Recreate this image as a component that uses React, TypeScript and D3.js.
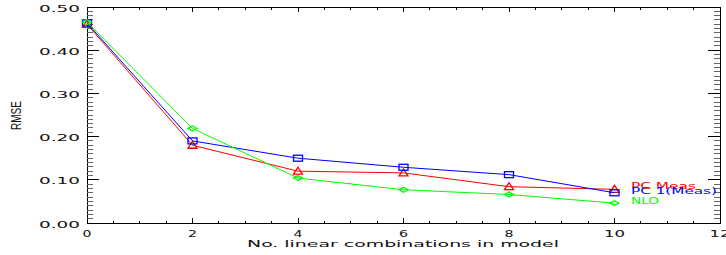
import React from "react";
import * as d3 from "d3";

const xValues = [0, 2, 4, 6, 8, 10];
const pcMeas = [0.46, 0.18, 0.12, 0.116, 0.084, 0.078];
const pc1Meas = [0.463, 0.19, 0.15, 0.129, 0.112, 0.07];
const nlo = [0.465, 0.219, 0.104, 0.077, 0.066, 0.046];
const xTickLabels = ["0", "2", "4", "6", "8", "10", "12"];
const yTickLabels = ["0.00", "0.10", "0.20", "0.30", "0.40", "0.50"];
const seriesNames = ["PC Meas", "PC 1(Meas)", "NLO"];

const W = 726;
const H = 255;
const L = 87, R = 720, T = 7, B = 223;

export default function App() {
  const x = d3.scaleLinear().domain([0, 12]).range([L, R]);
  const y = d3.scaleLinear().domain([0, 0.5]).range([B, T]);
  const line = d3.line<number>().x((_, i) => x(xValues[i])).y((d) => y(d));

  const xMajor = d3.range(0, 12.001, 2);
  const xMinor = d3.range(0, 12.001, 0.5).filter((v) => Math.abs(v / 2 - Math.round(v / 2)) > 1e-6);
  const yMajor = d3.range(0, 0.5001, 0.1);
  const yMinor = d3.range(0, 0.5001, 0.01).filter((v) => Math.abs(v * 10 - Math.round(v * 10)) > 1e-6);

  const series = [
    { name: seriesNames[0], data: pcMeas, color: "#ff0000", marker: "tri", ly: 189, len: 65 },
    { name: seriesNames[1], data: pc1Meas, color: "#0000ff", marker: "sq", ly: 194, len: 86 },
    { name: seriesNames[2], data: nlo, color: "#00ff00", marker: "dia", ly: 204, len: 28 },
  ];

  const marker = (type: string, cx: number, cy: number, color: string, key: string) => {
    const hw = 4.5, hh = 3;
    if (type === "sq")
      return <rect key={key} x={cx - hw} y={cy - hh} width={hw * 2} height={hh * 2} fill="none" stroke={color} strokeWidth={1.3} />;
    if (type === "tri")
      return <polygon key={key} points={`${cx - hw},${cy + hh} ${cx + hw},${cy + hh} ${cx},${cy - hh - 1}`} fill="none" stroke={color} strokeWidth={1.3} />;
    return <polygon key={key} points={`${cx - hw},${cy} ${cx},${cy - hh + 0.5} ${cx + hw},${cy} ${cx},${cy + hh - 0.5}`} fill="none" stroke={color} strokeWidth={1.3} />;
  };

  const font = "'DejaVu Sans', sans-serif";

  return (
    <svg width={W} height={H} style={{ position: "absolute", left: 0, top: 0, background: "#fff" }}>
      <rect x={0} y={0} width={W} height={H} fill="#fff" />
      <rect x={L} y={T} width={R - L} height={B - T} fill="none" stroke="#000" strokeWidth={1} shapeRendering="crispEdges" />
      {xMajor.map((v) => (
        <g key={"xm" + v}>
          <line x1={x(v)} x2={x(v)} y1={B} y2={B - 5} stroke="#000" shapeRendering="crispEdges" />
          <line x1={x(v)} x2={x(v)} y1={T} y2={T + 5} stroke="#000" shapeRendering="crispEdges" />
        </g>
      ))}
      {xMinor.map((v) => (
        <g key={"xn" + v}>
          <line x1={x(v)} x2={x(v)} y1={B} y2={B - 2.5} stroke="#000" shapeRendering="crispEdges" />
          <line x1={x(v)} x2={x(v)} y1={T} y2={T + 2.5} stroke="#000" shapeRendering="crispEdges" />
        </g>
      ))}
      {yMajor.map((v) => (
        <g key={"ym" + v}>
          <line x1={L} x2={L + 12} y1={y(v)} y2={y(v)} stroke="#000" shapeRendering="crispEdges" />
          <line x1={R} x2={R - 12} y1={y(v)} y2={y(v)} stroke="#000" shapeRendering="crispEdges" />
        </g>
      ))}
      {yMinor.map((v) => (
        <g key={"yn" + v}>
          <line x1={L} x2={L + 6} y1={y(v)} y2={y(v)} stroke="#666" shapeRendering="crispEdges" />
          <line x1={R} x2={R - 6} y1={y(v)} y2={y(v)} stroke="#666" shapeRendering="crispEdges" />
        </g>
      ))}
      {yMajor.map((v, i) => (
        <text key={"yl" + i} x={39} y={y(v) + 4.5} fontFamily={font} fontSize={9.5} textLength={41} lengthAdjust="spacingAndGlyphs" fill="#111">
          {yTickLabels[i]}
        </text>
      ))}
      {xMajor.map((v, i) => {
        const lbl = xTickLabels[i];
        const w = lbl.length * 9 + (lbl.length - 1) * 3;
        return (
          <text key={"xl" + i} x={x(v) - w / 2} y={236.5} fontFamily={font} fontSize={9.5} textLength={w} lengthAdjust="spacingAndGlyphs" fill="#111">
            {lbl}
          </text>
        );
      })}
      <text x={247} y={247} fontFamily={font} fontSize={9.5} textLength={312} lengthAdjust="spacingAndGlyphs" fill="#111">
        No. linear combinations in model
      </text>
      <text transform="translate(21,130) rotate(-90)" x={0} y={0} fontFamily="'Liberation Sans', sans-serif" fontSize={14} textLength={29} lengthAdjust="spacingAndGlyphs" fill="#111">
        RMSE
      </text>
      {series.map((s) => (
        <g key={s.name}>
          <path d={line(s.data) || ""} fill="none" stroke={s.color} strokeWidth={1} />
          {s.data.map((d, i) => marker(s.marker, x(xValues[i]), y(d), s.color, s.name + i))}
          <text x={631} y={s.ly} fontFamily={font} fontSize={9.5} textLength={s.len} lengthAdjust="spacingAndGlyphs" fill={s.color}>
            {s.name}
          </text>
        </g>
      ))}
    </svg>
  );
}
